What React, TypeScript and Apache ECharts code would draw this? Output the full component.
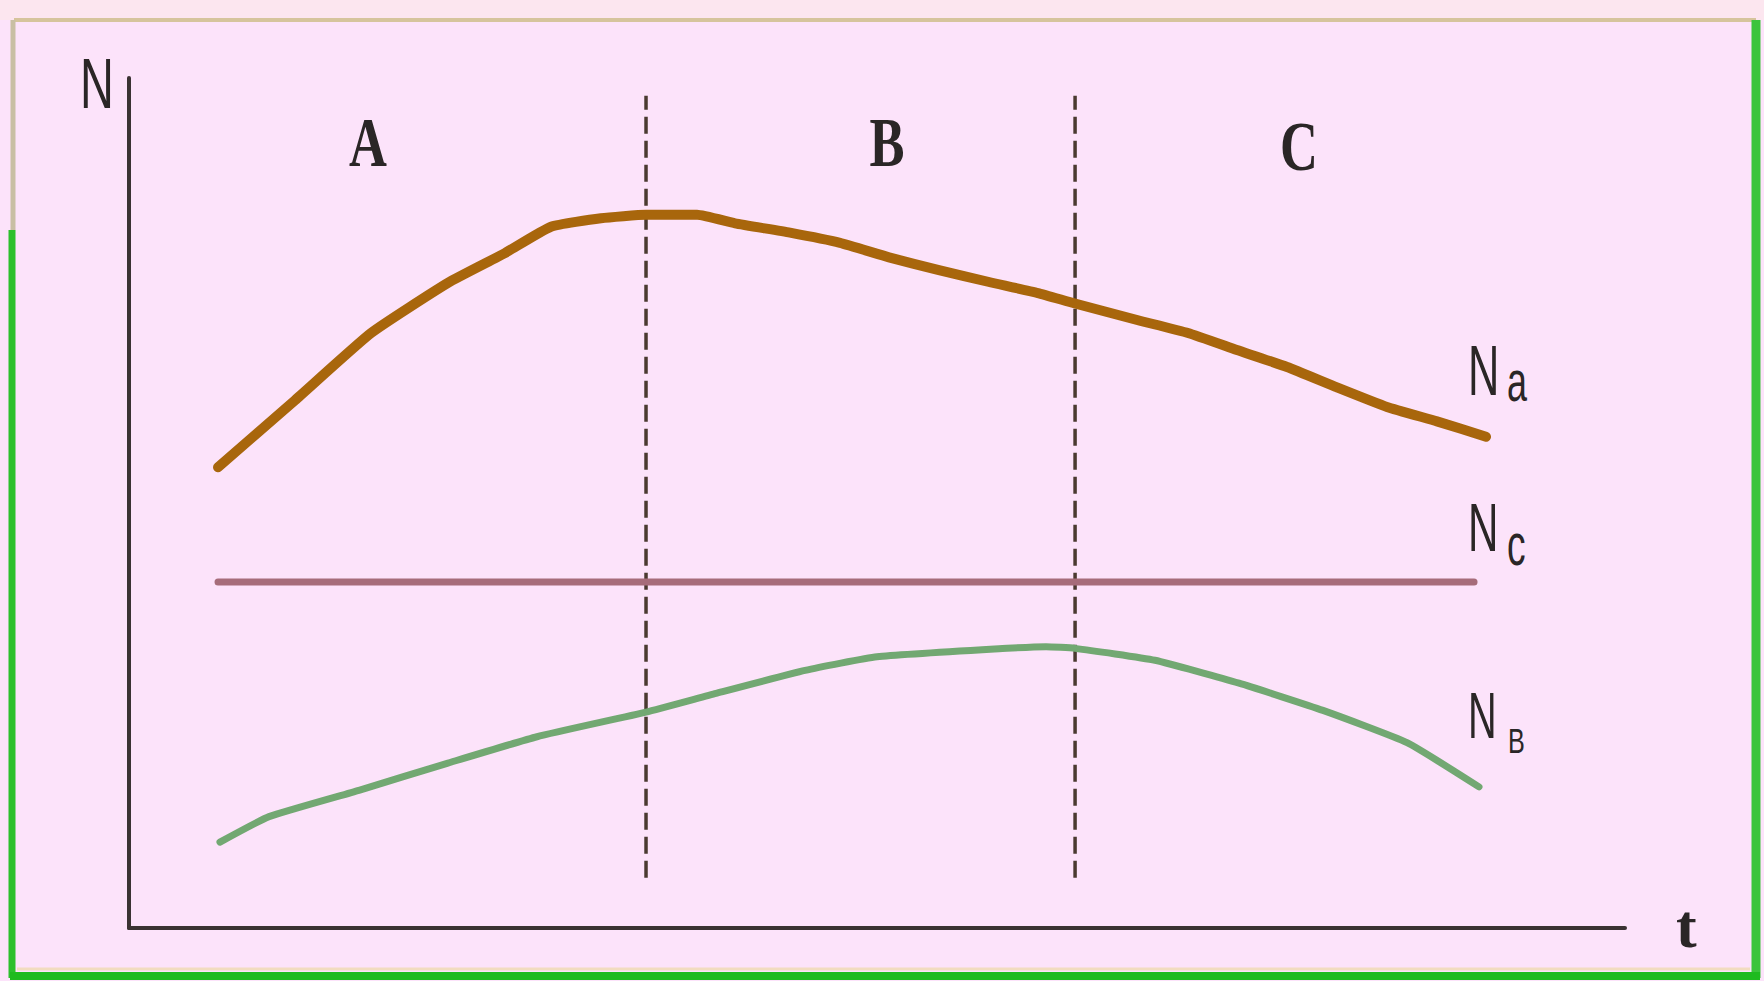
import React, { useEffect, useRef } from "react";
import * as echarts from "echarts";

// Data (x: time in % of axis length, y: N in % of axis height)
const naX = [5.95, 11.1, 16.18, 21.32, 25.13, 28.21, 31.55, 34.56, 37.97, 40.51, 44.18, 47.53, 50.8, 54.14, 57.49, 60.76, 63.17, 67.45, 70.79, 74.06, 77.41, 80.75, 84.09, 87.43, 90.71];
const naY = [54.2, 62.1, 70.0, 75.9, 79.4, 82.5, 83.5, 83.9, 83.9, 82.9, 81.8, 80.6, 78.9, 77.4, 76.0, 74.7, 73.5, 71.5, 70.0, 68.0, 66.0, 63.6, 61.3, 59.6, 57.8];

const ncX = [5.95, 89.91];
const ncY = [40.7, 40.7];

const nbX = [6.08, 9.36, 15.37, 21.32, 27.27, 34.56, 39.24, 45.19, 50.0, 58.69, 61.3, 63.24, 68.58, 74.2, 79.81, 85.43, 90.24];
const nbY = [10.1, 13.1, 16.2, 19.4, 22.5, 25.4, 27.6, 30.3, 31.9, 32.9, 33.1, 32.9, 31.5, 28.8, 25.6, 21.8, 16.6];

const boundaryX = [34.56, 63.24];
const boundaryY = [5.9, 97.9];

const regionLabels = ["A", "B", "C"];

const zip = (xs: number[], ys: number[]) => xs.map((x, i) => [x, ys[i]]);

export default function App() {
  const ref = useRef<HTMLDivElement>(null);

  useEffect(() => {
    if (!ref.current) return;
    const chart = echarts.init(ref.current, undefined, { renderer: "svg" });

    const sans = "'Liberation Sans', Arial, sans-serif";
    const serif = "'Liberation Serif', 'Times New Roman', serif";
    const ink = "#2a2626";

    const nText = (text: string, x: number, y: number, fontSize: number, sx: number, family = sans, weight: any = "normal", align = "left") => ({
      type: "text",
      x,
      y,
      scaleX: sx,
      z: 20,
      style: {
        text,
        fontSize,
        fontFamily: family,
        fontWeight: weight,
        fill: ink,
        align,
        verticalAlign: "middle",
      },
    });

    const option: any = {
      animation: false,
      backgroundColor: "#fce3fa",
      grid: { left: 129, top: 78, width: 1496, height: 850, containLabel: false },
      xAxis: {
        type: "value",
        min: 0,
        max: 100,
        axisLine: { show: true, lineStyle: { color: "#3a3232", width: 4 } },
        axisTick: { show: false },
        axisLabel: { show: false },
        splitLine: { show: false },
      },
      yAxis: {
        type: "value",
        min: 0,
        max: 100,
        axisLine: { show: true, lineStyle: { color: "#3a3232", width: 4 } },
        axisTick: { show: false },
        axisLabel: { show: false },
        splitLine: { show: false },
      },
      series: [
        ...boundaryX.map((bx, i) => ({
          name: "boundary" + i,
          type: "line",
          data: boundaryY.map((by) => [bx, by]),
          symbol: "none",
          lineStyle: { color: "#4a3a30", width: 3.5, type: [17, 7] },
          z: 1,
        })),
        {
          name: "Nc",
          type: "line",
          data: zip(ncX, ncY),
          symbol: "none",
          lineStyle: { color: "#a66c7a", width: 7, cap: "round" },
          z: 3,
        },
        {
          name: "Na",
          type: "line",
          data: zip(naX, naY),
          symbol: "none",
          smooth: 0.15,
          lineStyle: { color: "#a8660c", width: 10, cap: "round", join: "round" },
          z: 4,
        },
        {
          name: "NB",
          type: "line",
          data: zip(nbX, nbY),
          symbol: "none",
          smooth: 0.15,
          lineStyle: { color: "#72a872", width: 7, cap: "round", join: "round" },
          z: 4,
        },
      ],
      graphic: {
        elements: [
          // top strip above frame
          { type: "rect", shape: { x: 0, y: 0, width: 1764, height: 20 }, style: { fill: "#fce6ef" }, z: -10 },
          // frame lines
          { type: "line", shape: { x1: 14, y1: 20, x2: 1756, y2: 20 }, style: { stroke: "#d6c49c", lineWidth: 4 }, z: -5 },
          { type: "line", shape: { x1: 13, y1: 20, x2: 13, y2: 230 }, style: { stroke: "#c9bfa4", lineWidth: 5 }, z: -5 },
          { type: "line", shape: { x1: 12, y1: 230, x2: 12, y2: 978 }, style: { stroke: "#2cc02c", lineWidth: 7 }, z: -5 },
          { type: "line", shape: { x1: 1756, y1: 20, x2: 1756, y2: 978 }, style: { stroke: "#3cc43c", lineWidth: 9 }, z: -5 },
          { type: "line", shape: { x1: 10, y1: 976, x2: 1760, y2: 976 }, style: { stroke: "#1fbb1f", lineWidth: 8 }, z: -5 },
          { type: "line", shape: { x1: 17, y1: 969, x2: 1750, y2: 969 }, style: { stroke: "#f2dcc0", lineWidth: 3 }, z: -5 },
          // axis titles
          nText("N", 80, 84, 70, 0.67),
          nText("t", 1676, 926, 62, 1, serif, "bold"),
          // region labels
          nText(regionLabels[0], 368, 142, 70, 0.75, serif, "bold", "center"),
          nText(regionLabels[1], 887, 142, 70, 0.75, serif, "bold", "center"),
          nText(regionLabels[2], 1299, 146, 70, 0.75, serif, "bold", "center"),
          // series labels
          nText("N", 1468, 370, 70, 0.62),
          nText("a", 1507, 381, 58, 0.62),
          nText("N", 1468, 528, 68, 0.62),
          nText("c", 1507, 545, 60, 0.62),
          nText("N", 1468, 716, 64, 0.62),
          nText("B", 1508, 740, 35, 0.72),
        ],
      },
    };

    chart.setOption(option);
    return () => chart.dispose();
  }, []);

  return (
    <div
      ref={ref}
      style={{ position: "fixed", left: 0, top: 0, width: 1764, height: 981 }}
    />
  );
}
